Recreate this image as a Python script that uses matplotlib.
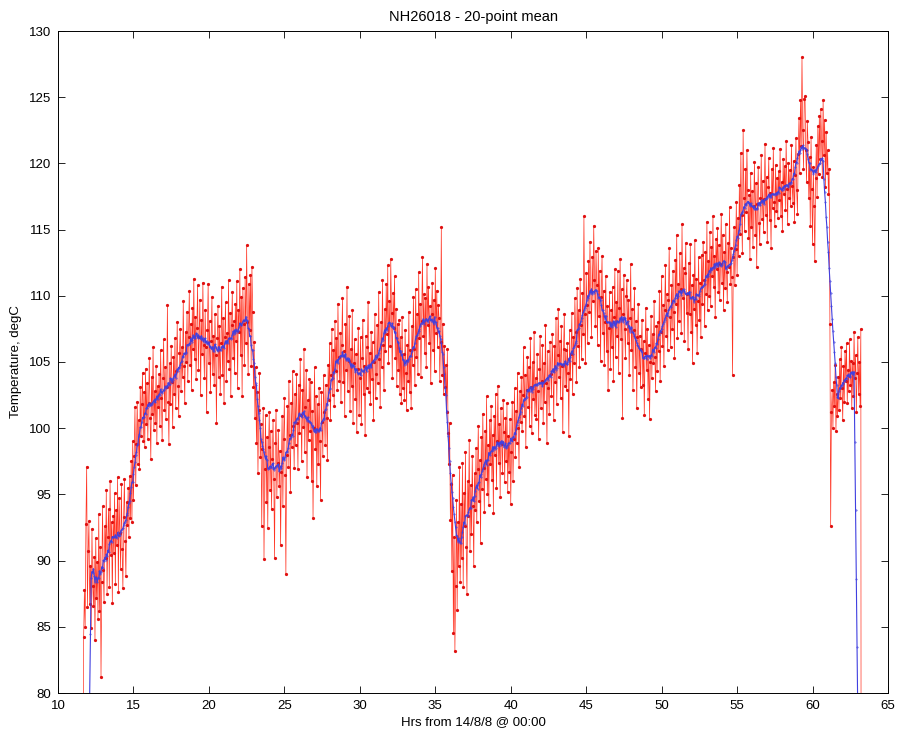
import numpy as np
import matplotlib
matplotlib.use("Agg")
import matplotlib.pyplot as plt

# sample start (hrs from 14/8/8 00:00) and sample interval (hrs)
t_start = 11.65
t_step = 0.05
n_mean = 20

# logger readings, degC, one list per stretch of the record
# (first and last readings are the off-scale 0 values of the logger)
temp_11_16 = [0.0,
    84.2, 87.8, 85.0, 92.8, 97.1, 86.5, 90.7, 93.0, 86.7, 89.6, 84.9, 92.4, 88.1, 86.6, 90.3, 84.0, 91.7, 87.2, 89.9, 85.6,
    93.5, 86.2, 91.0, 81.2, 88.4, 94.1, 89.3, 86.9, 92.6, 90.2, 95.3, 87.5, 91.8, 93.9, 88.0, 96.0, 90.4, 92.9, 86.8, 93.4,
    90.6, 95.1, 88.2, 93.8, 91.2, 96.3, 87.6, 94.7, 92.1, 89.4, 95.8, 90.9, 87.9, 93.3, 96.2, 91.5, 88.8, 94.4, 92.7, 95.5,
    91.8, 96.4, 93.2, 97.5, 92.9, 99.0, 94.6, 97.9, 101.6, 95.7, 98.8, 102.0, 97.3, 100.6, 96.9, 103.1, 99.4, 101.8, 104.2, 99.0,
    102.7, 98.6, 104.5, 100.3, 103.4, 99.2, 101.9, 105.3, 100.8, 97.7, 103.9, 101.1, 106.1, 99.9, 102.8, 100.4, 104.7, 98.9, 103.2, 101.6]

temp_16_21 = [
    104.1, 100.2, 105.9, 102.3, 99.1, 103.8, 106.7, 101.4, 104.6, 100.7, 103.1, 109.3, 102.0, 98.8, 104.9, 101.8, 106.2, 103.5, 100.1, 105.4,
    102.6, 106.8, 101.5, 104.3, 108.0, 103.2, 100.9, 105.7, 107.5, 102.8, 106.1, 103.9, 109.6, 104.7, 101.9, 107.3, 105.0, 108.8, 103.6, 106.9,
    110.4, 104.8, 107.9, 102.9, 109.1, 106.0, 111.3, 105.2, 108.4, 103.7, 107.6, 110.8, 104.4, 106.9, 109.7, 102.5, 108.2, 105.6, 111.0, 106.3,
    103.8, 108.9, 106.1, 101.2, 107.4, 110.9, 104.9, 108.1, 102.7, 106.6, 109.9, 104.1, 107.0, 103.3, 108.6, 105.5, 100.4, 106.8, 109.2, 103.9,
    107.7, 102.6, 106.4, 110.7, 104.0, 108.3, 101.9, 106.9, 109.5, 103.6, 107.2, 105.1, 111.2, 104.5, 108.7, 102.4, 107.8, 110.3, 105.3, 108.1]

temp_21_26 = [
    104.2, 109.4, 106.6, 111.1, 103.0, 108.9, 107.3, 112.0, 105.5, 109.9, 102.4, 110.6, 107.9, 104.8, 111.4, 106.4, 113.8, 108.0, 104.1, 110.9,
    107.4, 111.6, 104.7, 112.2, 108.8, 103.1, 106.5, 100.8, 104.6, 98.9, 102.7, 96.6, 101.4, 104.2, 97.8, 100.3, 92.6, 98.4, 101.5, 90.1,
    96.9, 101.0, 94.4, 99.3, 92.5, 98.6, 101.2, 95.3, 99.8, 93.9, 97.7, 100.6, 96.2, 90.2, 98.9, 101.4, 94.8, 97.4, 99.9, 95.6,
    98.3, 91.2, 96.7, 100.9, 94.1, 99.2, 102.3, 96.5, 89.0, 98.0, 101.7, 97.1, 103.6, 99.5, 95.2, 101.9, 98.6, 104.3, 100.2, 97.0,
    102.6, 98.7, 104.1, 100.4, 96.9, 103.3, 99.6, 105.2, 101.0, 97.5, 102.9, 100.1, 106.0, 98.2, 101.6, 104.4, 96.3, 102.1, 99.1, 103.7]

temp_26_31 = [
    99.8, 103.5, 96.0, 101.3, 93.2, 100.0, 104.6, 98.4, 102.4, 95.6, 101.8, 97.3, 103.0, 99.0, 94.6, 102.7, 100.5, 97.9, 104.0, 101.2,
    98.7, 103.3, 100.8, 97.6, 104.8, 102.1, 106.4, 100.6, 104.0, 107.5, 102.5, 105.9, 101.7, 108.1, 104.3, 106.8, 102.9, 109.4, 105.4, 103.6,
    107.2, 102.0, 106.3, 109.8, 103.5, 105.8, 100.9, 107.9, 104.4, 110.7, 102.8, 105.1, 108.5, 101.3, 106.0, 103.2, 108.9, 100.4, 104.9, 106.7,
    102.2, 105.6, 99.7, 104.5, 107.6, 101.0, 103.8, 106.9, 100.3, 105.3, 108.2, 102.6, 104.7, 99.5, 107.0, 103.0, 106.1, 109.5, 102.7, 105.7,
    101.8, 107.3, 103.7, 106.5, 100.6, 105.0, 108.6, 102.3, 104.1, 107.8, 103.4, 110.3, 105.2, 101.6, 108.0, 104.6, 111.2, 106.3, 102.9, 109.0]

temp_31_36 = [
    105.8, 110.9, 107.1, 112.3, 104.9, 109.6, 106.2, 112.8, 108.7, 103.8, 110.2, 107.6, 111.5, 105.3, 109.0, 103.2, 107.9, 104.4, 108.2, 102.6,
    106.9, 101.9, 108.4, 103.0, 105.6, 102.1, 107.4, 104.2, 101.4, 106.3, 103.6, 108.8, 102.7, 105.9, 101.5, 107.7, 104.8, 109.9, 106.0, 103.3,
    110.5, 105.4, 108.6, 104.1, 111.8, 106.8, 109.4, 103.9, 108.1, 112.9, 107.0, 110.1, 105.7, 109.8, 104.6, 112.4, 107.8, 110.7, 106.4, 109.2,
    103.4, 108.6, 111.0, 105.9, 109.7, 104.3, 112.1, 107.2, 110.4, 106.1, 109.3, 108.3, 103.6, 106.5, 115.2, 104.0, 107.9, 102.6, 106.2, 103.1,
    104.8, 101.2, 106.0, 99.6, 97.3, 100.4, 93.1, 95.8, 89.2, 96.5, 84.5, 91.8, 83.2, 88.1, 94.6, 86.3, 92.9, 89.6, 97.1, 88.4]

temp_36_41 = [
    94.3, 90.2, 97.4, 88.0, 95.1, 92.6, 98.2, 91.0, 87.5, 96.0, 93.4, 99.1, 90.7, 95.7, 92.0, 97.9, 94.1, 89.6, 96.6, 93.8,
    98.5, 92.9, 96.9, 100.2, 94.5, 97.6, 91.3, 99.3, 95.4, 101.1, 97.0, 93.7, 99.8, 96.2, 102.4, 95.0, 98.7, 94.2, 100.6, 97.3,
    101.7, 96.1, 99.5, 93.6, 100.9, 98.0, 102.6, 95.5, 99.0, 103.2, 97.4, 100.3, 94.8, 101.5, 98.8, 96.6, 102.1, 99.7, 95.9, 100.8,
    97.5, 101.9, 95.2, 99.4, 96.7, 100.7, 94.3, 98.2, 102.0, 96.0, 99.2, 103.0, 97.8, 101.3, 98.9, 104.2, 100.0, 97.1, 102.8, 100.5,
    103.9, 99.8, 102.5, 106.1, 100.9, 104.0, 98.6, 102.9, 105.4, 101.6, 104.6, 100.2, 106.8, 103.1, 99.6, 105.0, 102.2, 107.3, 101.0, 103.8]

temp_41_46 = [
    100.7, 105.6, 102.8, 99.2, 104.5, 107.0, 101.5, 103.6, 106.3, 100.4, 104.9, 102.0, 107.8, 103.4, 98.9, 105.8, 103.0, 101.1, 106.5, 104.1,
    102.4, 107.1, 104.4, 100.6, 106.2, 103.5, 108.3, 101.8, 105.5, 109.0, 103.9, 106.6, 102.3, 107.7, 104.7, 99.7, 106.0, 108.6, 103.2, 105.9,
    102.9, 106.4, 104.2, 99.4, 107.4, 103.7, 105.6, 108.7, 102.6, 106.9, 104.9, 109.8, 107.3, 103.5, 110.6, 106.2, 108.9, 104.6, 111.3, 107.8,
    105.2, 110.2, 107.1, 116.0, 108.6, 104.9, 111.7, 109.3, 106.4, 112.6, 108.8, 114.1, 110.4, 106.9, 112.9, 109.6, 115.3, 111.2, 107.7, 113.4,
    110.8, 106.3, 113.6, 108.5, 111.9, 105.1, 109.9, 113.0, 107.2, 110.4, 104.8, 108.0, 111.5, 105.8, 109.2, 102.9, 107.6, 110.3, 104.5, 108.9]

temp_46_51 = [
    106.1, 110.7, 103.6, 108.4, 112.0, 105.4, 109.5, 107.0, 111.9, 104.2, 109.1, 112.8, 106.7, 110.5, 100.8, 108.6, 111.6, 107.5, 105.3, 110.0,
    111.2, 106.4, 109.7, 104.0, 108.3, 112.4, 105.9, 109.0, 102.9, 107.4, 110.6, 104.6, 108.1, 101.5, 106.9, 109.4, 104.2, 107.0, 103.1, 106.0,
    108.2, 103.3, 106.6, 101.0, 105.7, 109.1, 104.4, 107.5, 102.2, 106.3, 100.7, 105.0, 108.5, 103.8, 107.1, 104.9, 109.6, 105.4, 102.8, 107.7,
    104.3, 108.0, 105.8, 110.4, 103.6, 107.3, 111.5, 106.2, 109.3, 104.7, 108.9, 112.3, 107.0, 110.1, 105.9, 109.7, 113.6, 108.4, 106.1, 110.8,
    107.5, 111.9, 108.8, 105.3, 112.7, 109.4, 114.6, 106.8, 110.9, 108.1, 113.2, 110.5, 107.2, 115.4, 109.8, 112.1, 106.6, 111.7, 114.0, 108.7]

temp_51_56 = [
    110.1, 106.0, 112.5, 108.6, 113.9, 107.3, 110.8, 104.9, 111.6, 109.0, 114.2, 107.8, 111.3, 105.7, 109.6, 112.9, 108.2, 111.0, 106.9, 113.1,
    109.4, 114.1, 111.2, 107.7, 113.3, 110.1, 115.6, 108.9, 112.6, 110.0, 114.8, 109.2, 113.7, 111.5, 116.0, 110.7, 113.0, 108.4, 114.3, 112.0,
    115.1, 110.3, 113.8, 109.7, 112.4, 116.2, 111.0, 114.6, 108.9, 113.3, 110.6, 115.4, 111.8, 109.5, 114.0, 112.2, 116.7, 110.9, 113.6, 111.4,
    104.0, 112.9, 115.2, 110.8, 113.5, 117.1, 111.6, 115.9, 113.0, 118.4, 114.7, 120.8, 116.1, 113.2, 122.5, 117.4, 114.9, 119.6, 116.3, 121.0,
    118.0, 114.4, 117.6, 112.8, 119.3, 115.2, 117.9, 113.7, 116.8, 120.1, 114.6, 118.5, 112.2, 116.9, 119.7, 115.5, 113.9, 117.4, 120.6, 115.8]

temp_56_61 = [
    118.7, 114.8, 117.3, 121.5, 116.1, 119.0, 114.1, 118.2, 120.4, 115.7, 117.8, 113.6, 119.6, 116.6, 121.2, 117.1, 115.3, 119.9, 116.4, 118.9,
    115.9, 119.4, 117.2, 121.1, 116.0, 118.6, 114.9, 120.3, 117.7, 119.8, 116.5, 121.7, 118.1, 115.4, 120.0, 117.4, 119.5, 116.8, 121.4, 118.3,
    117.0, 120.2, 115.6, 119.1, 121.9, 118.0, 116.2, 120.7, 123.4, 119.3, 124.8, 121.3, 128.0, 122.5, 119.6, 124.9, 125.1, 121.0, 118.6, 123.2,
    121.6, 117.4, 120.5, 115.3, 122.0, 118.1, 113.9, 119.7, 116.8, 112.6, 118.9, 121.4, 117.5, 122.8, 119.2, 123.6, 120.3, 124.1, 121.7, 119.0,
    124.8, 120.6, 123.3, 118.2, 122.4, 119.3, 121.0, 117.7, 119.6, 107.9, 92.6, 101.2, 102.9, 100.0, 103.5, 101.7, 104.8, 99.8, 102.6, 100.9]

temp_61_63 = [
    103.9, 101.4, 105.2, 102.3, 106.1, 103.0, 100.6, 104.7, 102.0, 105.8, 103.6, 106.4, 101.9, 104.4, 102.8, 106.7, 103.3, 105.1, 101.5, 104.9,
    102.4, 107.3, 103.8, 105.5, 101.2, 104.2, 106.9, 102.6, 105.0, 101.7, 107.5,
    0.0]

temp = np.array(temp_11_16 + temp_16_21 + temp_21_26 + temp_26_31 + temp_31_36 +
                temp_36_41 + temp_41_46 + temp_46_51 + temp_51_56 + temp_56_61 + temp_61_63)
hrs = t_start + t_step * np.arange(len(temp))

# 20-point running mean (zero padded at the ends, like the original)
temp_mean = np.convolve(temp, np.ones(n_mean) / n_mean, mode="same")

plt.rcParams["font.family"] = ["Liberation Sans", "DejaVu Sans"]

W, H = 897, 735
fig = plt.figure(figsize=(W / 100, H / 100), dpi=100)
ax = fig.add_axes([58 / W, 42 / H, 830 / W, 662 / H])

ax.plot(hrs, temp, "-", color="#ff3322", lw=0.5, marker=".", ms=2.6,
        mfc="#e01010", mec="#e01010")
ax.plot(hrs, temp_mean, "-", color="#4040e0", lw=0.8, marker=".", ms=0.8)

ax.set_xlim(10, 65)
ax.set_ylim(80, 130)
ax.set_xticks(np.arange(10, 66, 5))
ax.set_yticks(np.arange(80, 131, 5))
ax.tick_params(direction="in", top=True, right=True, labelsize=9.5, length=5,
               width=0.6, pad=5)
for s in ax.spines.values():
    s.set_linewidth(0.7)

ax.set_title("NH26018 - 20-point mean", fontsize=10.5, pad=7)
ax.set_xlabel("Hrs from 14/8/8 @ 00:00", fontsize=9.5, labelpad=3)
ax.set_ylabel("Temperature, degC", fontsize=9.5, labelpad=5)

fig.savefig("out.png", dpi=100)
